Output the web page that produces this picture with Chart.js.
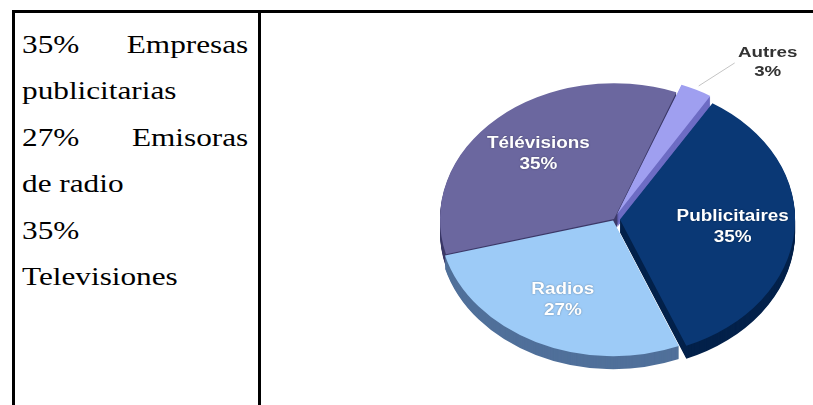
<!DOCTYPE html>
<html>
<head>
<meta charset="utf-8">
<script src="https://cdn.jsdelivr.net/npm/chart.js@4.4.0/dist/chart.umd.min.js"></script>
<style>
  body { margin: 0; background: #fff; width: 813px; height: 405px; overflow: hidden; position: relative; }
  .rule { position: absolute; background: #000; }
  .ln { position: absolute; left: 22px; font-family: "Liberation Serif", serif; font-size: 25px; line-height: 25px;
        color: #000; transform: scaleX(1.25); transform-origin: 0 0; white-space: nowrap; }
  .ln.just { display: flex; justify-content: space-between; width: 181px; }
  #wrap { position: absolute; left: 262px; top: 14px; width: 551px; height: 391px; }
</style>
</head>
<body>
<!-- table borders -->
<div class="rule" style="left:12px;top:10px;width:801px;height:3px"></div>
<div class="rule" style="left:12px;top:10px;width:3px;height:395px"></div>
<div class="rule" style="left:258px;top:10px;width:3px;height:395px"></div>

<!-- left cell -->
<div class="ln just" style="top:32px"><span>35%</span><span>Empresas</span></div>
<div class="ln" style="top:78px">publicitarias</div>
<div class="ln just" style="top:125px"><span>27%</span><span>Emisoras</span></div>
<div class="ln" style="top:171px">de radio</div>
<div class="ln" style="top:218px">35%</div>
<div class="ln" style="top:264px">Televisiones</div>

<div id="wrap"><canvas id="canvas" width="551" height="391"></canvas></div>

<script>
var labels = ['Autres', 'Publicitaires', 'Radios', 'Télévisions'];
var shares = [3, 35, 27, 35];

var faceColors = ['#9f9ff0', '#0a3875', '#9dcbf7', '#6b679f'];
var sideColors = ['#6d6cc4', '#03214a', '#50709a', '#3c3968'];
var explode = [24, 24, 8, 0];

var tilt = 0.78;   // vertical squash of the disc
var depth = 13;    // thickness of the disc in px

function slicePoint(arc, frac, cy) {
    var p = arc.getProps(['x', 'y', 'startAngle', 'endAngle', 'outerRadius']);
    var mid = (p.startAngle + p.endAngle) / 2;
    var r = (arc.options.offset || 0) / 4 + p.outerRadius * frac;
    return {
        x: p.x + Math.cos(mid) * r,
        y: cy + Math.sin(mid) * r * tilt,
        mid: mid
    };
}

var pie3d = {
    id: 'pie3d',
    beforeDatasetsDraw: function (chart) {
        var ctx = chart.ctx;
        var arcs = chart.getDatasetMeta(0).data;
        var cx = arcs[0].x, cy = arcs[0].y;
        ctx.save();
        ctx.translate(cx, cy);
        ctx.scale(1, tilt);
        ctx.translate(-cx, -cy);
        // side walls: the same slices stacked downwards in darker colours
        for (var d = depth; d > 0; d--) {
            arcs.forEach(function (arc, i) {
                var side = Object.create(arc);
                side.options = Object.assign({}, arc.options, { backgroundColor: sideColors[i] });
                ctx.save();
                ctx.translate(0, d / tilt);
                side.draw(ctx);
                ctx.restore();
            });
        }
    },
    afterDatasetsDraw: function (chart) {
        var ctx = chart.ctx;
        ctx.restore();
        var arcs = chart.getDatasetMeta(0).data;
        var cy = arcs[0].y;
        ctx.textAlign = 'center';
        ctx.textBaseline = 'middle';
        arcs.forEach(function (arc, i) {
            var name = labels[i], pct = shares[i] + '%';
            if (shares[i] < 5) {
                // small slice: label outside with a leader line
                var a = slicePoint(arc, 1.06, cy);
                var ex = a.x + 36, ey = a.y - 23;
                ctx.strokeStyle = '#c4c4c4';
                ctx.lineWidth = 1;
                ctx.beginPath();
                ctx.moveTo(a.x, a.y);
                ctx.lineTo(ex, ey);
                ctx.stroke();
                ctx.save();
                ctx.translate(ex + 33, ey);
                ctx.scale(1.25, 1);
                ctx.fillStyle = '#333333';
                ctx.font = 'bold 15px "Liberation Sans", Arial, sans-serif';
                ctx.fillText(name, 0, -10);
                ctx.fillText(pct, 0, 9);
                ctx.restore();
                return;
            }
            var p = slicePoint(arc, 0.65, cy);
            ctx.save();
            ctx.translate(p.x, p.y);
            ctx.scale(1.18, 1);
            ctx.fillStyle = '#ffffff';
            ctx.shadowColor = 'rgba(0,0,0,0.35)';
            ctx.shadowBlur = 2;
            ctx.font = 'bold 16px "Liberation Sans", Arial, sans-serif';
            ctx.fillText(name, 0, -10);
            ctx.fillText(pct, 0, 11);
            ctx.restore();
        });
    }
};

window.onload = function () {
    var ctx = document.getElementById('canvas').getContext('2d');
    window.myPie = new Chart(ctx, {
        type: 'pie',
        data: {
            labels: labels,
            datasets: [{
                data: shares,
                backgroundColor: faceColors,
                borderWidth: 0,
                offset: explode,
                hoverOffset: 0,
                clip: false
            }]
        },
        options: {
            responsive: false,
            animation: false,
            events: [],
            rotation: 21,
            radius: 174,
            layout: { padding: { left: 153, top: 19 } },
            plugins: {
                legend: { display: false },
                tooltip: { enabled: false }
            }
        },
        plugins: [pie3d]
    });
};
</script>
</body>
</html>
